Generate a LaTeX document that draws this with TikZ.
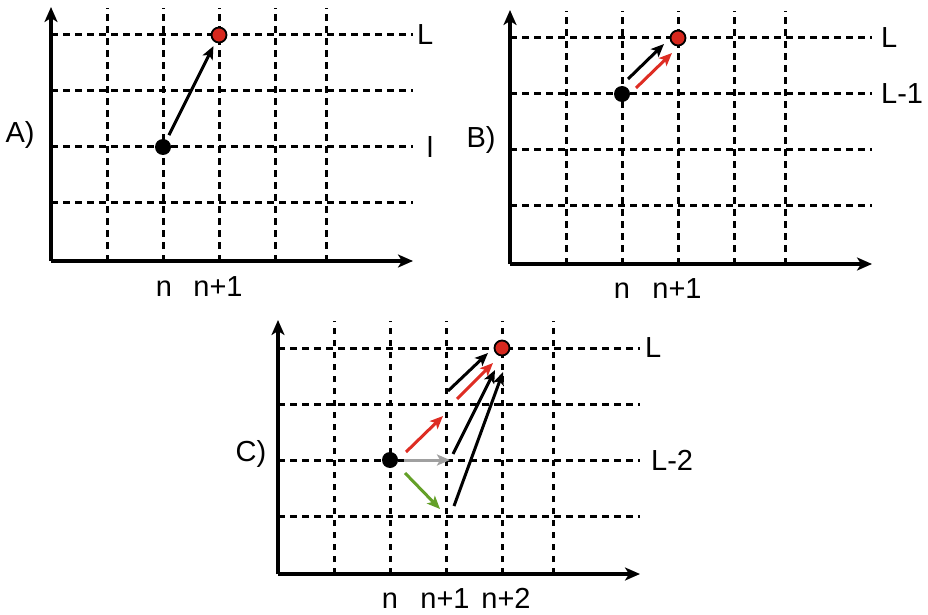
\documentclass[tikz,border=0pt]{standalone}
\usepackage{fontspec}
\setmainfont{Liberation Sans}
\usetikzlibrary{arrows.meta}
\definecolor{dotred}{RGB}{215,40,30}
\definecolor{arrred}{RGB}{222,45,35}
\definecolor{arrgreen}{RGB}{100,160,40}
\definecolor{arrgray}{RGB}{160,160,160}
\tikzset{
  gridline/.style={line width=3pt, dash pattern=on 6.5pt off 5.5pt},
  axisline/.style={line width=3.5pt, -{Stealth[length=15pt,width=13pt,inset=4pt]}},
  mov/.style={line width=3pt, -{Stealth[length=13pt,width=11pt,inset=3pt]}},
  blackdot/.style={circle, fill=black, minimum size=16pt, inner sep=0pt},
  reddot/.style={circle, fill=dotred, draw=black, line width=1.8pt, minimum size=15pt, inner sep=0pt},
  lbl/.style={font=\fontsize{29}{34}\selectfont, inner sep=0pt},
}
\newcommand{\mygrid}{%
  \foreach \gx in {56,112,168,224,275} \draw[gridline] (\gx,0) -- (\gx,253);
  \foreach \gy in {58,114,170,226} \draw[gridline] (0,\gy) -- (362,\gy);
  \draw[axisline] (0,0) -- (0,254);
  \draw[axisline] (0,0) -- (362,0);
}
\begin{document}
\begin{tikzpicture}[x=1pt,y=1pt]
\useasboundingbox (0,0) rectangle (928,614);
% ---------- Panel A ----------
\begin{scope}[shift={(51,353)}]
  \mygrid
  \node[blackdot] (a0) at (112,114) {};
  \node[reddot] (a1) at (168,226) {};
  \draw[mov, shorten <=5pt, shorten >=4pt] (a0) -- (a1);
  \node[lbl, anchor=west] (aL) at (366,226) {L};
  \node[lbl] (al) at (379,114) {l};
  \node[lbl, anchor=base] (an) at (113,-35) {n};
  \node[lbl, anchor=base] (an1) at (167,-35) {n+1};
  \node[lbl] (aA) at (-31,126) {A)};
\end{scope}
% ---------- Panel B ----------
\begin{scope}[shift={(510,350)}]
  \mygrid
  \node[blackdot] (b0) at (112,170) {};
  \node[reddot] (b1) at (168,226) {};
  \coordinate (bk0) at (118,185);
  \coordinate (bk1) at (154,220);
  \coordinate (br0) at (126,176);
  \coordinate (br1) at (162,211);
  \draw[mov] (bk0) -- (bk1);
  \draw[mov, arrred] (br0) -- (br1);
  \node[lbl, anchor=west] (bL) at (371,226) {L};
  \node[lbl, anchor=west] (bL1) at (371,170) {L-1};
  \node[lbl, anchor=base] (bn) at (112,-34) {n};
  \node[lbl, anchor=base] (bn1) at (167,-34) {n+1};
  \node[lbl] (bB) at (-29,124) {B)};
\end{scope}
% ---------- Panel C ----------
\begin{scope}[shift={(278,40)}]
  \mygrid
  \node[blackdot] (c0) at (112,114) {};
  \node[reddot] (c1) at (224,226) {};
  \coordinate (cr0) at (128,122);
  \coordinate (cr1) at (165,158);
  \coordinate (cg0) at (126,114);
  \coordinate (cg1) at (172,114);
  \coordinate (cn0) at (127,101);
  \coordinate (cn1) at (162,65);
  \coordinate (ck0) at (170,183);
  \coordinate (ck1) at (210,221);
  \coordinate (cq0) at (179,175);
  \coordinate (cq1) at (215,211);
  \coordinate (cm0) at (175,120);
  \coordinate (cm1) at (217,204);
  \coordinate (cd0) at (176,68);
  \coordinate (cd1) at (225,202);
  \draw[mov, arrred] (cr0) -- (cr1);
  \draw[mov, arrgray] (cg0) -- (cg1);
  \draw[mov, arrgreen] (cn0) -- (cn1);
  \draw[mov] (ck0) -- (ck1);
  \draw[mov, arrred] (cq0) -- (cq1);
  \draw[mov] (cm0) -- (cm1);
  \draw[mov] (cd0) -- (cd1);
  \node[lbl, anchor=west] (cL) at (367,226) {L};
  \node[lbl, anchor=west] (cL2) at (373,114) {L-2};
  \node[lbl, anchor=base] (cn) at (112,-34) {n};
  \node[lbl, anchor=base] (cn1) at (167,-34) {n+1};
  \node[lbl, anchor=base] (cn2) at (228,-34) {n+2};
  \node[lbl] (cC) at (-27,120) {C)};
\end{scope}
\end{tikzpicture}
\end{document}
